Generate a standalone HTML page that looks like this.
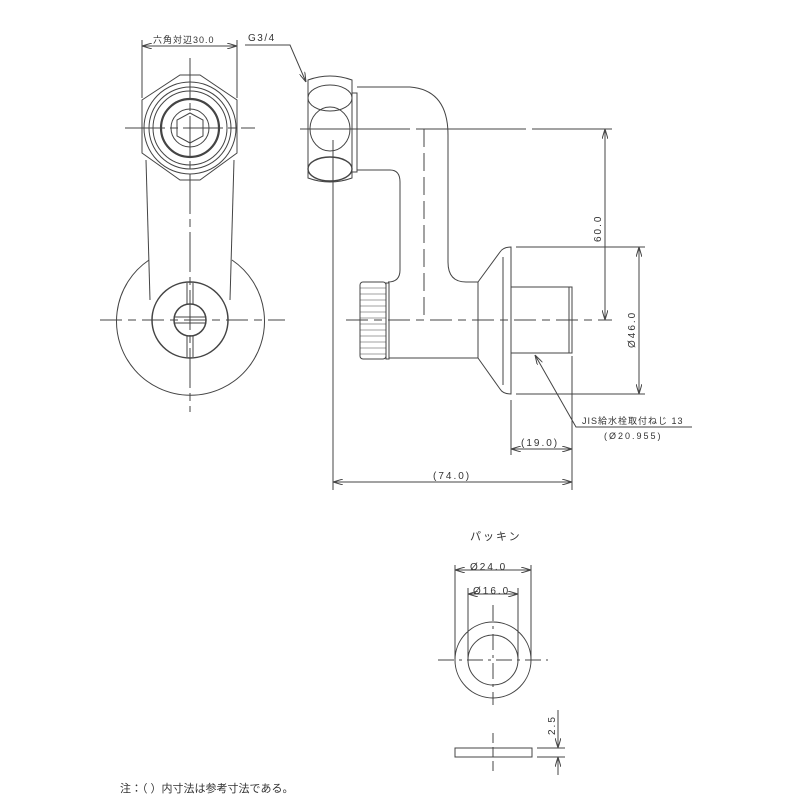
<!DOCTYPE html>
<html><head><meta charset="utf-8"><style>body{margin:0;background:#fff}svg{display:block}text{font-family:"Liberation Sans","Noto Sans CJK JP",sans-serif;fill:#333}.d{letter-spacing:2px}</style></head><body>
<svg width="800" height="800" viewBox="0 0 800 800" xmlns="http://www.w3.org/2000/svg">
<defs><marker id="a" markerWidth="10" markerHeight="6" refX="10" refY="3" orient="auto-start-reverse" markerUnits="userSpaceOnUse"><path d="M0,0 L10,3 L0,6" fill="none" stroke="#444" stroke-width="1"/></marker></defs>
<g fill="none" stroke="#444" stroke-width="1">
<polygon points="142,100 180,75 200,75 237,100 237,153 200,180 180,180 142,153"/>
<circle cx="190" cy="128" r="46"/><circle cx="190" cy="128" r="41"/><circle cx="190" cy="128" r="37"/>
<circle cx="190" cy="128" r="29" stroke-width="2.2"/><circle cx="190" cy="128" r="19"/>
<polygon points="190,113 203,120 203,136 190,143 177,136 177,120"/>
<line x1="146" y1="160" x2="150" y2="300"/><line x1="234" y1="160" x2="230" y2="300"/>
<path d="M149,260 A74,74 0 1 0 232,260"/>
<circle cx="190" cy="320" r="38" stroke-width="1.5"/>
<circle cx="190" cy="320" r="16" stroke-width="1.5"/>
<line x1="175" y1="317" x2="205" y2="317"/><line x1="175" y1="323" x2="205" y2="323"/>
<line x1="187" y1="283" x2="187" y2="304"/><line x1="193" y1="283" x2="193" y2="304"/>
<line x1="187" y1="336" x2="187" y2="357"/><line x1="193" y1="336" x2="193" y2="357"/>
<line x1="190" y1="58" x2="190" y2="412" stroke-dasharray="40,5,8,5"/>
<line x1="125" y1="128" x2="255" y2="128" stroke-dasharray="40,5,8,5"/>
<line x1="100" y1="320" x2="285" y2="320" stroke-dasharray="22,6,8,6"/>
<line x1="142" y1="40" x2="142" y2="98"/><line x1="237" y1="40" x2="237" y2="98"/>
<line x1="142" y1="46" x2="237" y2="46" marker-start="url(#a)" marker-end="url(#a)"/>
<polyline points="245,45 290,45 306,82" marker-end="url(#a)"/>
<path d="M308,80 Q330,72 352,80 L352,178 Q330,186 308,178 Z"/>
<ellipse cx="330" cy="98" rx="22" ry="13"/><ellipse cx="330" cy="129" rx="20" ry="22"/><ellipse cx="330" cy="169" rx="22" ry="12" stroke-width="1.4"/>
<rect x="352" y="93" width="5" height="79"/>
<path d="M357,87 L410,87 Q448,90 448,135 L448,262 Q448,282 466,282 L478,282"/>
<path d="M357,170 L390,170 Q400,170 400,182 L400,270 Q400,282 388,282"/>
<line x1="424" y1="129" x2="424" y2="320" stroke-dasharray="18,6"/>
<rect x="360" y="282" width="26" height="77" rx="3"/>
<g stroke-width="0.6"><line x1="360" y1="288" x2="386" y2="288"/><line x1="360" y1="294" x2="386" y2="294"/><line x1="360" y1="300" x2="386" y2="300"/><line x1="360" y1="306" x2="386" y2="306"/><line x1="360" y1="312" x2="386" y2="312"/><line x1="360" y1="318" x2="386" y2="318"/><line x1="360" y1="324" x2="386" y2="324"/><line x1="360" y1="330" x2="386" y2="330"/><line x1="360" y1="336" x2="386" y2="336"/><line x1="360" y1="342" x2="386" y2="342"/><line x1="360" y1="348" x2="386" y2="348"/><line x1="360" y1="354" x2="386" y2="354"/></g>
<rect x="386" y="283" width="3" height="76"/>
<path d="M389,358 L478,358"/>
<line x1="478" y1="282" x2="478" y2="358"/>
<path d="M478,282 L500,252 Q503,247 511,247 L511,394 Q503,394 500,389 L478,358"/>
<line x1="503" y1="257" x2="503" y2="385"/>
<rect x="511" y="287" width="61" height="66"/>
<line x1="569" y1="287" x2="569" y2="353"/>
<line x1="300" y1="129" x2="612" y2="129" stroke-dasharray="110,6"/>
<line x1="346" y1="320" x2="612" y2="320" stroke-dasharray="22,6,8,6"/>
<line x1="333" y1="140" x2="333" y2="490"/>
<line x1="605" y1="129" x2="605" y2="320" marker-start="url(#a)" marker-end="url(#a)"/>
<line x1="516" y1="247" x2="645" y2="247"/><line x1="516" y1="394" x2="645" y2="394"/>
<line x1="639" y1="247" x2="639" y2="394" marker-start="url(#a)" marker-end="url(#a)"/>
<line x1="511" y1="400" x2="511" y2="455"/><line x1="572" y1="356" x2="572" y2="490"/>
<line x1="511" y1="449" x2="572" y2="449" marker-start="url(#a)" marker-end="url(#a)"/>
<line x1="333" y1="482" x2="572" y2="482" marker-start="url(#a)" marker-end="url(#a)"/>
<polyline points="692,427 576,427 535,355" marker-end="url(#a)"/>
<circle cx="493" cy="660" r="38"/><circle cx="493" cy="660" r="25"/>
<line x1="493" y1="605" x2="493" y2="705" stroke-dasharray="16,5,3,5"/>
<line x1="438" y1="660" x2="548" y2="660" stroke-dasharray="16,5,3,5"/>
<line x1="455" y1="565" x2="455" y2="660"/><line x1="531" y1="565" x2="531" y2="660"/>
<line x1="468" y1="588" x2="468" y2="660"/><line x1="518" y1="588" x2="518" y2="660"/>
<line x1="455" y1="570" x2="531" y2="570" marker-start="url(#a)" marker-end="url(#a)"/>
<line x1="468" y1="594" x2="518" y2="594" marker-start="url(#a)" marker-end="url(#a)"/>
<rect x="455" y="748" width="77" height="9"/>
<line x1="493" y1="733" x2="493" y2="772" stroke-dasharray="10,4"/>
<line x1="537" y1="748" x2="565" y2="748"/><line x1="537" y1="757" x2="565" y2="757"/>
<line x1="558" y1="710" x2="558" y2="748" marker-end="url(#a)"/>
<line x1="558" y1="775" x2="558" y2="757" marker-end="url(#a)"/>
</g>
<g font-size="10" fill="#333">
<text x="153" y="43" font-size="9" class="d" style="letter-spacing:1px">六角対辺30.0</text>
<text x="248" y="41" font-size="10" class="d" style="letter-spacing:1.5px">G3/4</text>
<text class="d" x="0" y="0" transform="translate(601,242) rotate(-90)">60.0</text>
<text class="d" x="0" y="0" transform="translate(635,348) rotate(-90)">Ø46.0</text>
<text x="582" y="424" font-size="9" style="letter-spacing:1px">JIS給水栓取付ねじ 13</text>
<text x="604" y="439" font-size="9" class="d">(Ø20.955)</text>
<text x="521" y="446" class="d">(19.0)</text>
<text x="433" y="479" class="d">(74.0)</text>
<text x="470" y="540" font-size="11" style="letter-spacing:2px">パッキン</text>
<text x="470" y="570" class="d">Ø24.0</text>
<text x="473" y="594" class="d">Ø16.0</text>
<text class="d" x="0" y="0" transform="translate(555,735) rotate(-90)">2.5</text>
<text x="120" y="792" font-size="11">注：（ ）内寸法は参考寸法である。</text>
</g>
</svg>
</body></html>
